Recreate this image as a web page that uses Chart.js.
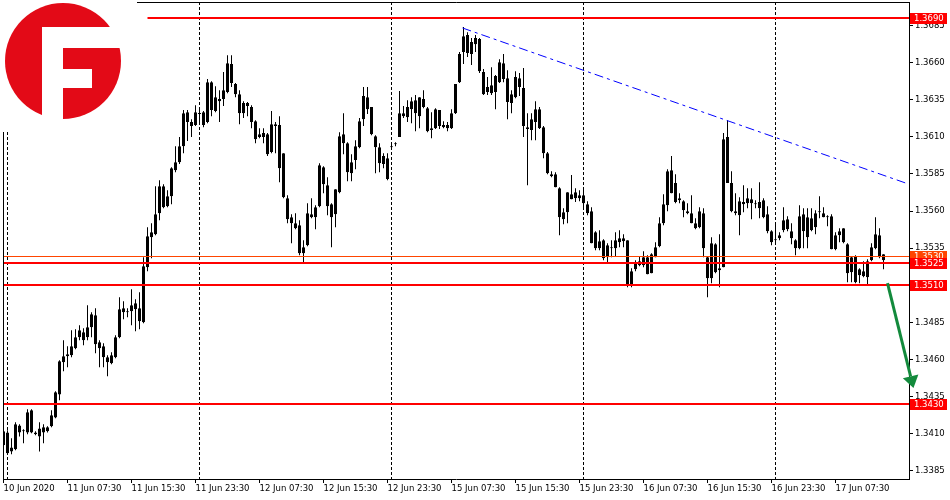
<!DOCTYPE html>
<html>
<head>
<meta charset="utf-8">
<script src="https://cdn.jsdelivr.net/npm/chart.js@4.4.1/dist/chart.umd.min.js"></script>
<style>
  html, body { margin: 0; padding: 0; background: #fff; }
  canvas { display: block; }
</style>
</head>
<body>
<canvas id="grafico" width="950" height="500"></canvas>
<script>
// USDCAD M30, 10-17 Jun 2020 (candles)
const opens = [
  1.34116, 1.34109, 1.33981, 1.33995, 1.34156, 1.34116, 1.34109, 1.34258, 1.34109, 1.34082,
  1.34143, 1.34116, 1.34150, 1.34210, 1.34365, 1.34581, 1.34622, 1.34628, 1.34675, 1.34750,
  1.34783, 1.34750, 1.34817, 1.34898, 1.34716, 1.34689, 1.34615, 1.34574, 1.34615, 1.34750,
  1.34945, 1.34918, 1.34925, 1.34979, 1.34945, 1.34851, 1.35221, 1.35424, 1.35444, 1.35585,
  1.35767, 1.35633, 1.35700, 1.35875, 1.35929, 1.36037, 1.36266, 1.36199, 1.36179, 1.36259,
  1.36266, 1.36199, 1.36468, 1.36273, 1.36354, 1.36354, 1.36401, 1.36590, 1.36455, 1.36387,
  1.36259, 1.36327, 1.36300, 1.36205, 1.36098, 1.36098, 1.36118, 1.35997, 1.36185, 1.36179,
  1.35990, 1.35686, 1.35558, 1.35518, 1.35505, 1.35316, 1.35370, 1.35579, 1.35558, 1.35633,
  1.35895, 1.35774, 1.35646, 1.35579, 1.35727, 1.36118, 1.36057, 1.35855, 1.35943, 1.36030,
  1.36219, 1.36367, 1.36300, 1.36104, 1.36030, 1.35916, 1.35956, 1.36037, 1.36057, 1.36098,
  1.36259, 1.36232, 1.36286, 1.36347, 1.36239, 1.36354, 1.36293, 1.36158, 1.36158, 1.36280,
  1.36179, 1.36179, 1.36158, 1.36259, 1.36468, 1.36671, 1.36785, 1.36657, 1.36724, 1.36758,
  1.36536, 1.36401, 1.36448, 1.36401, 1.36468, 1.36596, 1.36495, 1.36327, 1.36367, 1.36495,
  1.36428, 1.36165, 1.36145, 1.36199, 1.36286, 1.36165, 1.35990, 1.35848, 1.35848, 1.35754,
  1.35545, 1.35592, 1.35713, 1.35686, 1.35707, 1.35707, 1.35646, 1.35599, 1.35457, 1.35349,
  1.35403, 1.35289, 1.35349, 1.35349, 1.35390, 1.35397, 1.35403, 1.35107, 1.35208, 1.35262,
  1.35235, 1.35289, 1.35181, 1.35289, 1.35363, 1.35518, 1.35639, 1.35875, 1.35788, 1.35686,
  1.35666, 1.35599, 1.35585, 1.35518, 1.35491, 1.35585, 1.35289, 1.35147, 1.35376, 1.35215,
  1.35221, 1.36098, 1.35788, 1.35599, 1.35572, 1.35646, 1.35653, 1.35653, 1.35646, 1.35660,
  1.35673, 1.35579, 1.35464, 1.35403, 1.35417, 1.35538, 1.35478, 1.35464, 1.35403, 1.35349,
  1.35579, 1.35424, 1.35552, 1.35491, 1.35592, 1.35585, 1.35558, 1.35565, 1.35343, 1.35437,
  1.35484, 1.35376, 1.35188, 1.35296, 1.35168, 1.35194, 1.35154, 1.35269, 1.35349, 1.35437,
  1.35309
];
const highs = [
  1.34136, 1.34123, 1.34069, 1.34177, 1.34163, 1.34130, 1.34264, 1.34264, 1.34116, 1.34177,
  1.34163, 1.34150, 1.34258, 1.34386, 1.34595, 1.34729, 1.34689, 1.34797, 1.34804, 1.34831,
  1.34810, 1.34965, 1.34918, 1.34945, 1.34729, 1.34709, 1.34628, 1.34649, 1.34763, 1.35019,
  1.34992, 1.34945, 1.35073, 1.35006, 1.35053, 1.35289, 1.35491, 1.35518, 1.35767, 1.35808,
  1.35781, 1.35740, 1.35895, 1.36037, 1.36098, 1.36280, 1.36280, 1.36219, 1.36313, 1.36300,
  1.36273, 1.36489, 1.36475, 1.36441, 1.36414, 1.36536, 1.36650, 1.36650, 1.36462, 1.36414,
  1.36340, 1.36334, 1.36313, 1.36212, 1.36158, 1.36158, 1.36125, 1.36273, 1.36199, 1.36239,
  1.35990, 1.35707, 1.35579, 1.35585, 1.35538, 1.35403, 1.35653, 1.35686, 1.35639, 1.35922,
  1.35902, 1.35828, 1.35653, 1.35747, 1.36131, 1.36259, 1.36064, 1.35983, 1.36077, 1.36226,
  1.36435, 1.36435, 1.36300, 1.36111, 1.36057, 1.35990, 1.35990, 1.36064, 1.36064, 1.36408,
  1.36307, 1.36347, 1.36367, 1.36381, 1.36367, 1.36414, 1.36300, 1.36266, 1.36293, 1.36280,
  1.36205, 1.36199, 1.36286, 1.36455, 1.36671, 1.36839, 1.36805, 1.36765, 1.36785, 1.36765,
  1.36556, 1.36502, 1.36569, 1.36516, 1.36623, 1.36657, 1.36549, 1.36414, 1.36542, 1.36529,
  1.36563, 1.36259, 1.36259, 1.36340, 1.36300, 1.36172, 1.35997, 1.35868, 1.35862, 1.35761,
  1.35619, 1.35727, 1.35842, 1.35754, 1.35740, 1.35754, 1.35666, 1.35626, 1.35464, 1.35471,
  1.35410, 1.35383, 1.35403, 1.35457, 1.35471, 1.35444, 1.35403, 1.35215, 1.35269, 1.35296,
  1.35329, 1.35302, 1.35316, 1.35390, 1.35558, 1.35713, 1.35882, 1.35970, 1.35848, 1.35720,
  1.35673, 1.35653, 1.35707, 1.35552, 1.35626, 1.35619, 1.35296, 1.35424, 1.35383, 1.35444,
  1.36125, 1.36212, 1.35868, 1.35720, 1.35693, 1.35774, 1.35754, 1.35754, 1.35673, 1.35794,
  1.35686, 1.35633, 1.35471, 1.35518, 1.35457, 1.35626, 1.35565, 1.35518, 1.35410, 1.35639,
  1.35619, 1.35619, 1.35619, 1.35606, 1.35700, 1.35626, 1.35572, 1.35579, 1.35457, 1.35484,
  1.35484, 1.35383, 1.35296, 1.35302, 1.35215, 1.35262, 1.35275, 1.35383, 1.35558, 1.35484,
  1.35309
];
const lows = [
  1.34008, 1.33961, 1.33961, 1.33988, 1.34082, 1.34035, 1.34096, 1.34103, 1.34089, 1.33981,
  1.34035, 1.34109, 1.34143, 1.34204, 1.34325, 1.34520, 1.34547, 1.34615, 1.34669, 1.34729,
  1.34696, 1.34729, 1.34750, 1.34642, 1.34547, 1.34547, 1.34487, 1.34568, 1.34608, 1.34743,
  1.34871, 1.34884, 1.34831, 1.34790, 1.34804, 1.34844, 1.35194, 1.35282, 1.35437, 1.35538,
  1.35619, 1.35626, 1.35646, 1.35862, 1.35916, 1.35990, 1.36071, 1.36098, 1.36172, 1.36199,
  1.36165, 1.36192, 1.36239, 1.36266, 1.36199, 1.36307, 1.36394, 1.36435, 1.36367, 1.36185,
  1.36226, 1.36239, 1.36158, 1.36057, 1.36091, 1.36057, 1.35970, 1.35990, 1.35990, 1.35794,
  1.35686, 1.35518, 1.35383, 1.35478, 1.35302, 1.35248, 1.35363, 1.35552, 1.35478, 1.35626,
  1.35720, 1.35572, 1.35356, 1.35491, 1.35720, 1.35983, 1.35801, 1.35801, 1.35882, 1.36023,
  1.36172, 1.36253, 1.36111, 1.35855, 1.35862, 1.35889, 1.35808, 1.36017, 1.36037, 1.36098,
  1.36226, 1.36199, 1.36192, 1.36138, 1.36158, 1.36293, 1.36131, 1.36091, 1.36152, 1.36152,
  1.36158, 1.36138, 1.36152, 1.36253, 1.36462, 1.36590, 1.36637, 1.36583, 1.36671, 1.36529,
  1.36381, 1.36381, 1.36381, 1.36286, 1.36462, 1.36468, 1.36219, 1.36259, 1.36360, 1.36374,
  1.36098, 1.35774, 1.36077, 1.36077, 1.36152, 1.35956, 1.35848, 1.35828, 1.35761, 1.35437,
  1.35511, 1.35518, 1.35680, 1.35660, 1.35666, 1.35619, 1.35572, 1.35383, 1.35336, 1.35336,
  1.35269, 1.35255, 1.35289, 1.35296, 1.35356, 1.35356, 1.35087, 1.35087, 1.35194, 1.35228,
  1.35221, 1.35174, 1.35181, 1.35289, 1.35356, 1.35505, 1.35599, 1.35720, 1.35653, 1.35653,
  1.35558, 1.35579, 1.35518, 1.35478, 1.35484, 1.35289, 1.35019, 1.35114, 1.35181, 1.35087,
  1.35221, 1.35788, 1.35592, 1.35572, 1.35437, 1.35592, 1.35619, 1.35545, 1.35619, 1.35552,
  1.35552, 1.35451, 1.35370, 1.35383, 1.35403, 1.35457, 1.35464, 1.35376, 1.35302, 1.35343,
  1.35349, 1.35349, 1.35464, 1.35444, 1.35552, 1.35558, 1.35498, 1.35343, 1.35336, 1.35390,
  1.35383, 1.35120, 1.35120, 1.35114, 1.35114, 1.35154, 1.35100, 1.35262, 1.35343, 1.35282,
  1.35208
];
const closes = [
  1.34022, 1.33968, 1.34008, 1.34163, 1.34109, 1.34123, 1.34244, 1.34109, 1.34096, 1.34136,
  1.34109, 1.34143, 1.34224, 1.34379, 1.34588, 1.34622, 1.34635, 1.34689, 1.34750, 1.34797,
  1.34729, 1.34817, 1.34905, 1.34702, 1.34675, 1.34615, 1.34581, 1.34628, 1.34750, 1.34938,
  1.34918, 1.34925, 1.34965, 1.34938, 1.34857, 1.35228, 1.35430, 1.35457, 1.35579, 1.35767,
  1.35626, 1.35700, 1.35889, 1.35929, 1.36037, 1.36259, 1.36199, 1.36172, 1.36266, 1.36253,
  1.36179, 1.36468, 1.36280, 1.36367, 1.36340, 1.36414, 1.36596, 1.36462, 1.36387, 1.36259,
  1.36327, 1.36307, 1.36199, 1.36084, 1.36118, 1.36125, 1.35983, 1.36185, 1.36172, 1.35889,
  1.35693, 1.35545, 1.35518, 1.35484, 1.35316, 1.35356, 1.35585, 1.35558, 1.35626, 1.35909,
  1.35781, 1.35633, 1.35558, 1.35747, 1.36104, 1.36057, 1.35862, 1.35929, 1.36037, 1.36205,
  1.36374, 1.36286, 1.36118, 1.36030, 1.35922, 1.35970, 1.35815, 1.36030, 1.36050, 1.36259,
  1.36239, 1.36300, 1.36340, 1.36259, 1.36367, 1.36300, 1.36138, 1.36145, 1.36286, 1.36172,
  1.36165, 1.36158, 1.36259, 1.36455, 1.36657, 1.36778, 1.36664, 1.36738, 1.36765, 1.36542,
  1.36387, 1.36435, 1.36394, 1.36509, 1.36603, 1.36489, 1.36334, 1.36387, 1.36502, 1.36435,
  1.36172, 1.36152, 1.36219, 1.36286, 1.36158, 1.35990, 1.35855, 1.35835, 1.35761, 1.35558,
  1.35592, 1.35727, 1.35680, 1.35727, 1.35686, 1.35653, 1.35585, 1.35383, 1.35349, 1.35397,
  1.35282, 1.35370, 1.35356, 1.35403, 1.35417, 1.35417, 1.35100, 1.35194, 1.35248, 1.35235,
  1.35289, 1.35174, 1.35309, 1.35356, 1.35518, 1.35646, 1.35868, 1.35720, 1.35660, 1.35673,
  1.35606, 1.35585, 1.35518, 1.35484, 1.35599, 1.35349, 1.35147, 1.35383, 1.35188, 1.35201,
  1.36084, 1.35788, 1.35599, 1.35585, 1.35666, 1.35660, 1.35686, 1.35680, 1.35646, 1.35619,
  1.35558, 1.35464, 1.35390, 1.35403, 1.35437, 1.35471, 1.35545, 1.35417, 1.35349, 1.35565,
  1.35464, 1.35558, 1.35471, 1.35585, 1.35592, 1.35558, 1.35558, 1.35343, 1.35437, 1.35464,
  1.35390, 1.35181, 1.35289, 1.35120, 1.35208, 1.35161, 1.35262, 1.35356, 1.35444, 1.35289,
  1.35269
];

// time axis (one label every 16 bars)
const xTickIdx = [0, 16, 32, 48, 64, 80, 96, 112, 128, 144, 160, 176, 192, 208];
const xTickLabels = ['10 Jun 2020', '11 Jun 07:30', '11 Jun 15:30', '11 Jun 23:30', '12 Jun 07:30',
  '12 Jun 15:30', '12 Jun 23:30', '15 Jun 07:30', '15 Jun 15:30', '15 Jun 23:30',
  '16 Jun 07:30', '16 Jun 15:30', '16 Jun 23:30', '17 Jun 07:30'];
const daySeparators = [1, 49, 97, 145, 193];
const yTickValues = [1.3385, 1.3410, 1.3435, 1.3460, 1.3485, 1.3510, 1.3535, 1.3560,
  1.3585, 1.3610, 1.3635, 1.3660, 1.3685];

// horizontal levels
const levelPrices = [1.3530, 1.3690, 1.3525, 1.3510, 1.3430];
const levelColors = ['#ff4500', '#ff0000', '#ff0000', '#ff0000', '#ff0000'];
const levelWidths = [1, 2, 2, 2, 2];
const levelStart = [null, 36, null, null, null];

// trend line and arrow (bar index, price)
const trendX = [114.75, 225.5];
const trendY = [1.36833, 1.35789];
const arrowX = [221, 227.5];
const arrowY = [1.35115, 1.34408];

const fonte = "8.5px 'DejaVu Sans', sans-serif";

const wicks = highs.map((h, i) => ({ x: i, y: [lows[i], h] }));
const bodies = opens.map((o, i) => ({ x: i, y: [o, closes[i]] }));

const desenhos = {
  id: 'desenhos',
  beforeDatasetsDraw(chart) {
    const { ctx, chartArea: a, scales: { x } } = chart;
    ctx.save();
    ctx.strokeStyle = '#000';
    ctx.lineWidth = 1;
    ctx.setLineDash([3, 2]);
    daySeparators.forEach(i => {
      const px = Math.floor(x.getPixelForValue(i)) + 0.5;
      ctx.beginPath();
      ctx.moveTo(px, a.top);
      ctx.lineTo(px, a.bottom);
      ctx.stroke();
    });
    ctx.restore();
  },
  afterDatasetsDraw(chart) {
    const { ctx, chartArea: a, scales: { x, y } } = chart;
    ctx.save();

    // levels
    levelPrices.forEach((p, k) => {
      const py = Math.round(y.getPixelForValue(p)) + (levelWidths[k] % 2 ? 0.5 : 0);
      const x0 = levelStart[k] === null ? a.left : x.getPixelForValue(levelStart[k]);
      ctx.strokeStyle = levelColors[k];
      ctx.lineWidth = levelWidths[k];
      ctx.beginPath();
      ctx.moveTo(x0, py);
      ctx.lineTo(a.right, py);
      ctx.stroke();
    });

    // trend line
    ctx.strokeStyle = '#0000ff';
    ctx.lineWidth = 1;
    ctx.setLineDash([9, 4, 3, 4]);
    ctx.beginPath();
    ctx.moveTo(x.getPixelForValue(trendX[0]), y.getPixelForValue(trendY[0]));
    ctx.lineTo(x.getPixelForValue(trendX[1]), y.getPixelForValue(trendY[1]));
    ctx.stroke();
    ctx.setLineDash([]);

    // arrow
    const ax0 = x.getPixelForValue(arrowX[0]), ay0 = y.getPixelForValue(arrowY[0]);
    const ax1 = x.getPixelForValue(arrowX[1]), ay1 = y.getPixelForValue(arrowY[1]);
    const len = Math.hypot(ax1 - ax0, ay1 - ay0);
    const ux = (ax1 - ax0) / len, uy = (ay1 - ay0) / len;
    const bx = ax1 - ux * 12, by = ay1 - uy * 12;
    ctx.strokeStyle = '#138a3c';
    ctx.fillStyle = '#138a3c';
    ctx.lineWidth = 3;
    ctx.beginPath();
    ctx.moveTo(ax0, ay0);
    ctx.lineTo(bx, by);
    ctx.stroke();
    ctx.beginPath();
    ctx.moveTo(ax1, ay1);
    ctx.lineTo(bx - uy * 8, by + ux * 8);
    ctx.lineTo(bx + uy * 8, by - ux * 8);
    ctx.closePath();
    ctx.fill();

    // price labels on the right axis
    ctx.font = fonte;
    ctx.textBaseline = 'middle';
    ctx.textAlign = 'left';
    levelPrices.forEach((p, k) => {
      const py = Math.round(y.getPixelForValue(p));
      ctx.fillStyle = levelColors[k];
      ctx.fillRect(a.right + 1, py - 5, 37, 11);
      ctx.fillStyle = '#fff';
      ctx.fillText(p.toFixed(4), a.right + 5, py + 0.5);
    });

    // frame
    ctx.strokeStyle = '#000';
    ctx.lineWidth = 1;
    ctx.beginPath();
    ctx.moveTo(a.left + 0.5, a.bottom);
    ctx.lineTo(a.left + 0.5, a.top + 0.5);
    ctx.lineTo(a.right, a.top + 0.5);
    ctx.stroke();

    // logo
    ctx.fillStyle = '#fff';
    ctx.fillRect(0, 0, 137, 132);
    ctx.fillStyle = '#e30a17';
    ctx.beginPath();
    ctx.arc(63, 61, 58, 0, Math.PI * 2);
    ctx.fill();
    ctx.fillStyle = '#fff';
    ctx.fillRect(42, 27, 21, 100);
    ctx.fillRect(42, 27, 90, 21);
    ctx.fillRect(63, 69, 29, 19);

    ctx.restore();
  }
};

const ctx = document.getElementById('grafico').getContext('2d');
new Chart(ctx, {
  type: 'bar',
  data: {
    datasets: [
      {
        label: 'wick',
        data: wicks,
        backgroundColor: '#000',
        borderWidth: 0,
        barThickness: 1,
        inflateAmount: 0,
        grouped: false
      },
      {
        label: 'body',
        data: bodies,
        backgroundColor: c => closes[c.dataIndex] > opens[c.dataIndex] ? '#fff' : '#000',
        borderColor: '#000',
        borderWidth: 1,
        borderSkipped: false,
        barThickness: 3,
        minBarLength: 1,
        inflateAmount: 0,
        grouped: false
      }
    ]
  },
  options: {
    responsive: false,
    animation: false,
    devicePixelRatio: 1,
    layout: { padding: { left: 3, top: 2, right: 0, bottom: 0 } },
    plugins: {
      legend: { display: false },
      tooltip: { enabled: false }
    },
    scales: {
      x: {
        type: 'linear',
        offset: false,
        min: -0.125,
        max: 226.375,
        afterBuildTicks: s => { s.ticks = xTickIdx.map(v => ({ value: v })); },
        afterFit: s => { s.height = 21; s.paddingLeft = 0; s.paddingRight = 0; },
        ticks: {
          autoSkip: false,
          maxRotation: 0,
          align: 'start',
          padding: 1,
          color: '#000',
          font: { family: "'DejaVu Sans', sans-serif", size: 8.5 },
          callback: (v, i) => xTickLabels[i]
        },
        grid: { offset: false, drawOnChartArea: false, drawTicks: true, tickLength: 4, color: '#000' },
        border: { display: true, color: '#000' }
      },
      y: {
        position: 'right',
        min: 1.33795,
        max: 1.37008,
        afterBuildTicks: s => { s.ticks = yTickValues.map(v => ({ value: v })); },
        afterFit: s => { s.width = 41; s.paddingTop = 0; s.paddingBottom = 0; },
        ticks: {
          padding: 2,
          color: '#000',
          font: { family: "'DejaVu Sans', sans-serif", size: 8.5 },
          callback: v => v.toFixed(4)
        },
        grid: { drawOnChartArea: false, drawTicks: true, tickLength: 4, color: '#000' },
        border: { display: true, color: '#000' }
      }
    }
  },
  plugins: [desenhos]
});
</script>
</body>
</html>
